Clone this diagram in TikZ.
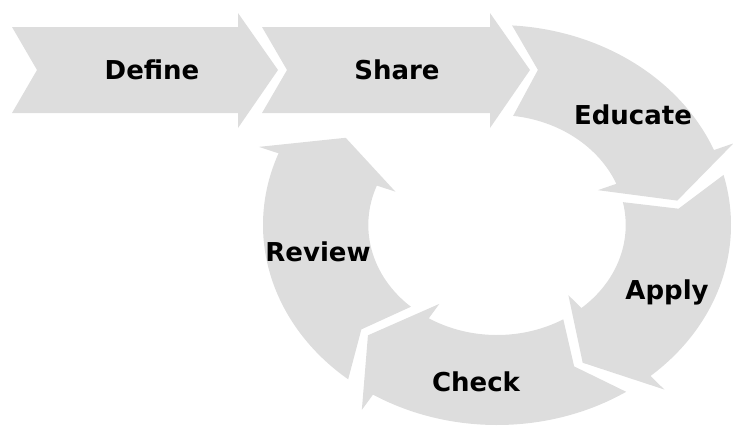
\documentclass[tikz,border=0pt]{standalone}
\usepackage{fontspec}
\setsansfont{DejaVu Sans}

\definecolor{stagegray}{RGB}{221,221,221}

\tikzset{
    stage/.style={fill=stagegray, draw=none},
    stage label/.style={font=\sffamily\bfseries\fontsize{14.8}{17}\selectfont, text=black, inner sep=0pt},
}

\begin{document}
\begin{tikzpicture}[x=0.02cm, y=0.02cm]
    \path[use as bounding box] (0,0) rectangle (733,-427);
    \clip (0,0) rectangle (733,-427);

    \fill[stage] (12,-27) -- (238,-27) -- (238,-13) -- (278,-70) -- (238,-128) -- (238,-113) -- (12,-113) -- (37,-70) -- cycle;
    \fill[stage] (262,-27) -- (490,-27) -- (490,-13) -- (530,-70) -- (490,-128) -- (490,-113) -- (262,-113) -- (287,-70) -- cycle;

    \begin{scope}[shift={(497,-225)}, xscale=1.17]
        \fill[stage] (86.3:200) arc[start angle=86.3, end angle=22, radius=200] -- (22:218) -- (9:156) -- (22:93) -- (22:110)
            arc[start angle=22, end angle=82.8, radius=110] -- (77.3:159) -- cycle;
        \fill[stage] (14.5:200) arc[start angle=14.5, end angle=-49, radius=200] -- (-49:218) -- (-62:156) -- (-49:93) -- (-49:110)
            arc[start angle=-49, end angle=12, radius=110] -- (6:156) -- cycle;
        \fill[stage] (-56.5:200) arc[start angle=-56.5, end angle=-122, radius=200] -- (-122:218) -- (-135:156) -- (-122:93) -- (-122:110)
            arc[start angle=-122, end angle=-59, radius=110] -- (-65:156) -- cycle;
        \fill[stage] (-129.5:200) arc[start angle=-129.5, end angle=-201, radius=200] -- (-201:218) -- (-214:156) -- (-201:93) -- (-201:110)
            arc[start angle=-201, end angle=-132, radius=110] -- (-138:156) -- cycle;
    \end{scope}

    \node[stage label] (define) at (152,-70) {Define};
    \node[stage label] (share) at (397,-70) {Share};
    \node[stage label] (educate) at (633,-115) {Educate};
    \node[stage label] (apply) at (667,-292) {Apply};
    \node[stage label] (check) at (476,-382) {Check};
    \node[stage label] (review) at (318,-252) {Review};
\end{tikzpicture}
\end{document}
